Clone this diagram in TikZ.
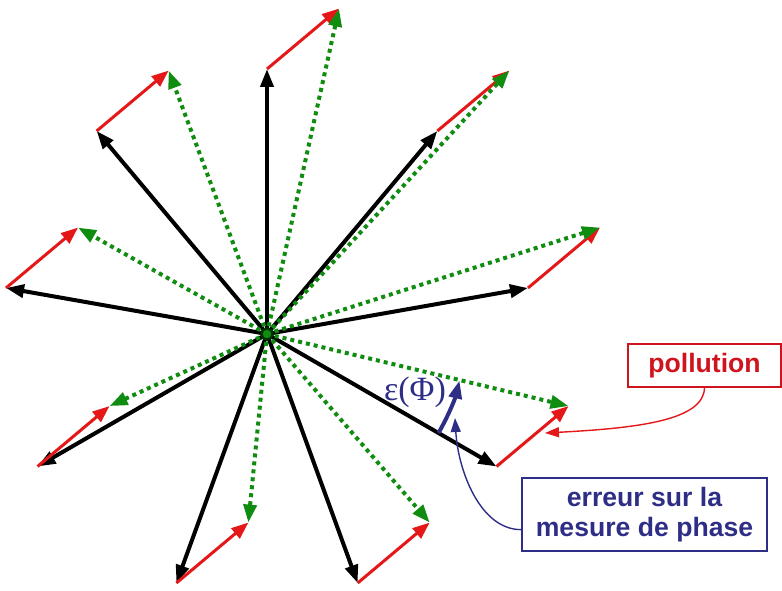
\documentclass[tikz,border=0pt]{standalone}
\usepackage{fontspec}
\setmainfont{Liberation Sans}
\newfontfamily\greekserif{Liberation Serif}
\usetikzlibrary{arrows.meta,calc}
\definecolor{vecred}{RGB}{228,24,24}
\definecolor{txtred}{RGB}{208,20,30}
\definecolor{vecgreen}{RGB}{16,140,16}
\definecolor{darkgreen}{RGB}{0,50,0}
\definecolor{navy}{RGB}{46,46,134}
\begin{document}
\begin{tikzpicture}[x=0.5pt,y=0.5pt,
  blackvec/.style={black,line width=2pt,-{Triangle[length=9pt,width=6.5pt]}},
  redvec/.style={vecred,line width=1.5pt,-{Triangle[length=8.5pt,width=6.5pt]}},
  greenvec/.style={vecgreen,line width=2pt,dash pattern=on 2pt off 2pt,-{Triangle[length=9pt,width=6.5pt]}},
  hubdot/.style={fill=vecgreen,draw=darkgreen,line width=1.2pt},
  phasearc/.style={navy,line width=2pt,-{Triangle[length=9pt,width=6.5pt]}},
  polbox/.style={draw=txtred,line width=0.6pt,text=txtred,inner sep=0pt,minimum width=76.5pt,minimum height=21.5pt,font=\bfseries\fontsize{13.3}{15}\selectfont},
  errbox/.style={draw=navy,line width=0.6pt,text=navy,inner sep=0pt,minimum width=122.5pt,minimum height=36.5pt,align=center,font=\bfseries\fontsize{13.3}{15}\selectfont},
  polline/.style={vecred,line width=0.7pt,-{Triangle[length=7pt,width=5pt]}},
  errline/.style={navy,line width=0.7pt,-{Triangle[length=7pt,width=5pt]}},
  epslabel/.style={text=navy,inner sep=0pt,font=\greekserif\fontsize{17}{19}\selectfont}]
\useasboundingbox (0,0) rectangle (782,590);
\coordinate (C) at (267,256);
\foreach \i/\a in {1/10,2/50,3/90,4/130,5/170,6/210,7/250,8/290,9/330}{
  \coordinate (b\i) at ($(C)+(\a:132.5pt)$);
  \coordinate (r\i) at ($(b\i)+(40:47pt)$);
}
\foreach \i in {1,...,9}{\draw[blackvec] (C) -- (b\i);}
\foreach \i in {1,...,9}{\draw[redvec] (b\i) -- (r\i);}
\foreach \i in {1,...,9}{\draw[greenvec] (C) -- (r\i);}
\filldraw[hubdot] (C) circle (2.8pt);
% phase error arc
\coordinate (e0) at ($(C)+(-30:99pt)$);
\draw[phasearc] (e0) arc[start angle=-30,end angle=-13.6,radius=99pt];
\node[epslabel] (eps) at (415,197.5) {ε(Φ)};
% boxes
\node[polbox] (pol) at (704.5,224.5) {pollution};
\node[errbox] (err) at (644.5,75.5) {erreur sur la\\mesure de phase};
% connectors
\coordinate (pt) at (545,157);
\draw[polline] (pol.south) .. controls (704,170) and (640,162) .. (pt);
\coordinate (et) at (455,172);
\draw[errline] (err.187) .. controls (480,60) and (458,120) .. (et);
\end{tikzpicture}
\end{document}
